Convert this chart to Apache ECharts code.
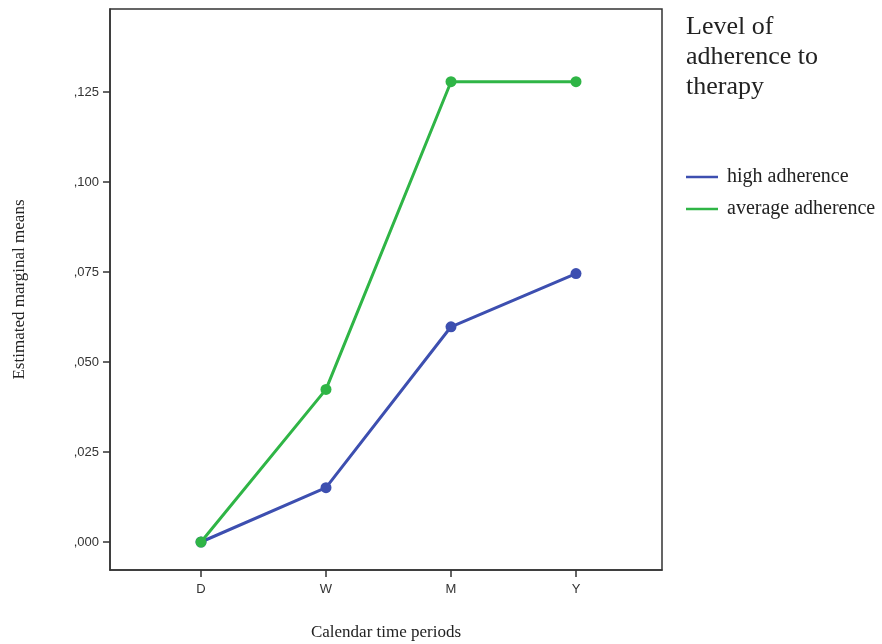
<!DOCTYPE html>
<html>
<head>
<meta charset="utf-8">
<script src="https://cdn.jsdelivr.net/npm/echarts@6/dist/echarts.min.js"></script>
<style>
html,body{margin:0;padding:0;background:#fff;}
#chart{width:882px;height:644px;}
</style>
</head>
<body>
<div id="chart"></div>
<script>
const categories = ['D', 'W', 'M', 'Y'];
const highAdherence = [0.0000, 0.0151, 0.0598, 0.0746];
const averageAdherence = [0.0000, 0.0424, 0.1279, 0.1279];
const yTicks = [0, 0.025, 0.05, 0.075, 0.1, 0.125];
const seriesNames = ['high adherence', 'average adherence'];
const legendTitle = 'Level of\nadherence to\ntherapy';

const blue = '#3d4fb0';
const green = '#2fb546';

const chart = echarts.init(document.getElementById('chart'));
const fmtY = v => v.toFixed(3).replace(/^0\./, ',');

chart.setOption({
  animation: false,
  backgroundColor: '#fff',
  grid: {left: 110, top: 9, width: 552, height: 561, show: true, borderColor: '#333', borderWidth: 1.5,
    containLabel: false, outerBoundsMode: 'none'},
  title: {
    text: legendTitle, left: 681, top: 7,
    textStyle: {fontFamily: 'Liberation Serif', fontSize: 26, fontWeight: 'normal', color: '#222', lineHeight: 30}
  },
  legend: {
    orient: 'vertical', left: 681, top: 162, itemGap: 12, itemWidth: 32, itemHeight: 22,
    icon: 'path://M0,10L32,10L32,12.5L0,12.5Z',
    data: seriesNames,
    textStyle: {fontFamily: 'Liberation Serif', fontSize: 20, color: '#222', padding: [0, 0, 0, 4]}
  },
  xAxis: {
    type: 'value', min: -0.728, max: 3.688, position: 'bottom',
    name: 'Calendar time periods', nameLocation: 'middle', nameGap: 54,
    nameTextStyle: {fontFamily: 'Liberation Serif', fontSize: 17, color: '#222'},
    axisLine: {show: true, onZero: false, lineStyle: {color: '#333', width: 1.5}},
    splitLine: {show: false},
    axisTick: {show: true, customValues: [0, 1, 2, 3], length: 7, lineStyle: {color: '#333', width: 1.5}},
    axisLabel: {customValues: [0, 1, 2, 3], margin: 13, fontFamily: 'Liberation Sans', fontSize: 13, color: '#333',
      formatter: v => categories[Math.round(v)] || ''}
  },
  yAxis: {
    type: 'value', min: -0.00778, max: 0.1481, position: 'left',
    name: 'Estimated marginal means', nameLocation: 'middle', nameGap: 82, nameRotate: 90,
    nameTextStyle: {fontFamily: 'Liberation Serif', fontSize: 17, color: '#222'},
    axisLine: {show: true, onZero: false, lineStyle: {color: '#333', width: 1.5}},
    splitLine: {show: false},
    axisTick: {show: true, customValues: yTicks, length: 7, lineStyle: {color: '#333', width: 1.5}},
    axisLabel: {customValues: yTicks, margin: 11, fontFamily: 'Liberation Sans', fontSize: 13, color: '#333', formatter: fmtY}
  },
  series: [
    {
      name: seriesNames[0], type: 'line',
      data: highAdherence.map((v, i) => [i, v]),
      symbol: 'circle', symbolSize: 11,
      lineStyle: {color: blue, width: 3}, itemStyle: {color: blue}, z: 2
    },
    {
      name: seriesNames[1], type: 'line',
      data: averageAdherence.map((v, i) => [i, v]),
      symbol: 'circle', symbolSize: 11,
      lineStyle: {color: green, width: 3}, itemStyle: {color: green}, z: 3
    }
  ]
});
</script>
</body>
</html>
